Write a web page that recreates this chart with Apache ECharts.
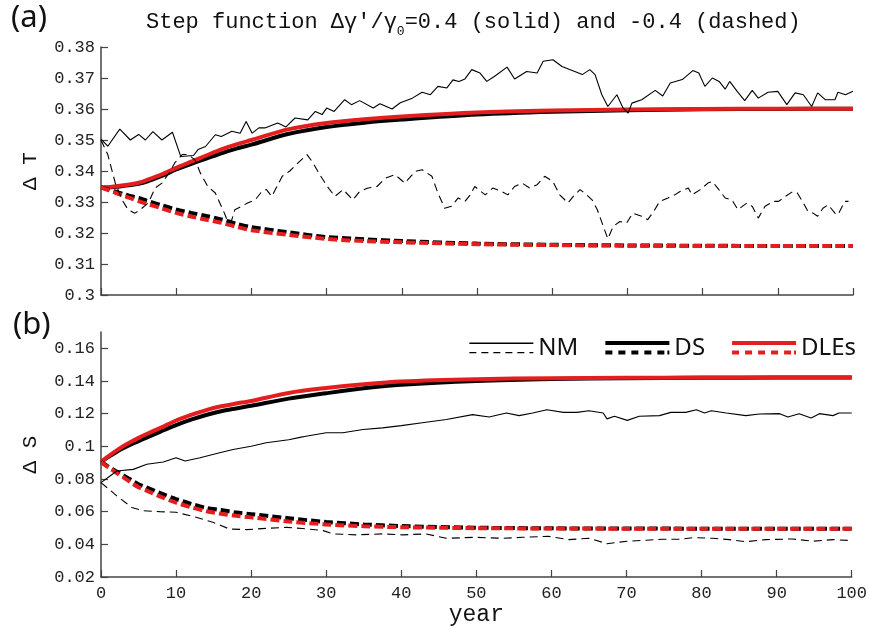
<!DOCTYPE html>
<html>
<head>
	<meta charset="utf-8">
	<title>Step function response</title>
	<script src="https://cdn.jsdelivr.net/npm/echarts@6/dist/echarts.min.js"></script>
	<style>
		html, body { margin: 0; padding: 0; background: #fff; }
		#main { width: 870px; height: 627px; }
	</style>
</head>
<body>
<div id="main"></div>
<script>
// tick values
var xTicks = [0, 10, 20, 30, 40, 50, 60, 70, 80, 90, 100];
var tTicks = [0.3, 0.31, 0.32, 0.33, 0.34, 0.35, 0.36, 0.37, 0.38];
var sTicks = [0.02, 0.04, 0.06, 0.08, 0.1, 0.12, 0.14, 0.16];

// years for the smooth DS / DLEs curves
var years = [0, 1, 2, 3, 4, 5, 6, 8, 10, 12, 14, 16, 18, 20, 25, 30, 35, 40, 50, 60, 70, 80, 90, 100];

// (a) delta T, smooth curves
var dsT_pos   = [0.3347, 0.3347, 0.3349, 0.3352, 0.3355, 0.3359, 0.3365, 0.3383, 0.3405, 0.3423, 0.3440, 0.3457, 0.3472, 0.3485, 0.3520, 0.3542, 0.3556, 0.3566, 0.3582, 0.3591, 0.3596, 0.3599, 0.3600, 0.3601];
var dleT_pos  = [0.3347, 0.3348, 0.3351, 0.3354, 0.3357, 0.3362, 0.3370, 0.3388, 0.3410, 0.3430, 0.3450, 0.3470, 0.3486, 0.3500, 0.3535, 0.3555, 0.3567, 0.3576, 0.3589, 0.3595, 0.3598, 0.3600, 0.3601, 0.3601];
var dsT_neg   = [0.3347, 0.3340, 0.3333, 0.3326, 0.3319, 0.3313, 0.3305, 0.3290, 0.3276, 0.3265, 0.3255, 0.3244, 0.3230, 0.3219, 0.3202, 0.3187, 0.3180, 0.3174, 0.3166, 0.3162, 0.3160, 0.3159, 0.3158, 0.3158];
var dleT_neg  = [0.3347, 0.3338, 0.3329, 0.3320, 0.3312, 0.3303, 0.3295, 0.3280, 0.3265, 0.3253, 0.3243, 0.3233, 0.3220, 0.3209, 0.3194, 0.3181, 0.3174, 0.3170, 0.3164, 0.3161, 0.3159, 0.3158, 0.3158, 0.3158];

// (b) delta S, smooth curves
var dsS_pos   = [0.0904, 0.0935, 0.0964, 0.0990, 0.1012, 0.1032, 0.1052, 0.1092, 0.1130, 0.1163, 0.1192, 0.1215, 0.1232, 0.1248, 0.1292, 0.1325, 0.1355, 0.1377, 0.1400, 0.1412, 0.1417, 0.1420, 0.1421, 0.1422];
var dleS_pos  = [0.0904, 0.0940, 0.0972, 0.1002, 0.1028, 0.1052, 0.1074, 0.1115, 0.1158, 0.1192, 0.1222, 0.1245, 0.1262, 0.1278, 0.1327, 0.1357, 0.1380, 0.1397, 0.1411, 0.1417, 0.1420, 0.1421, 0.1422, 0.1422];
var dsS_neg   = [0.0904, 0.0875, 0.0848, 0.0822, 0.0795, 0.0768, 0.0750, 0.0712, 0.0677, 0.0648, 0.0623, 0.0610, 0.0595, 0.0585, 0.0560, 0.0537, 0.0522, 0.0512, 0.0502, 0.0498, 0.0497, 0.0496, 0.0496, 0.0496];
var dleS_neg  = [0.0904, 0.0871, 0.0840, 0.0810, 0.0778, 0.0750, 0.0730, 0.0690, 0.0655, 0.0627, 0.0603, 0.0587, 0.0575, 0.0565, 0.0540, 0.0522, 0.0511, 0.0505, 0.0499, 0.0497, 0.0496, 0.0496, 0.0495, 0.0495];

// (a) NM, solid (+0.4)
var nmT_pos_yr = [0, 0.9, 2.5, 3.9, 5, 5.9, 6.9, 8.1, 9.5, 10.6, 12.3, 12.9, 13.9, 15.2, 16, 17.4, 18.5, 19.3, 20.1, 21, 21.8, 23.5, 24.6, 25.8, 27.5, 28.5, 29.4, 30, 31, 32.4, 33.3, 34.4, 36.2, 37.1, 38.7, 39.8, 41.4, 42.7, 43.8, 44.8, 46, 46.8, 47.6, 48.4, 49.3, 50.4, 51.3, 52.3, 54, 55, 56.6, 58, 58.8, 60.1, 61.3, 63, 64, 65, 65.7, 66.6, 67.4, 68.6, 69.4, 70.1, 70.6, 71.9, 73.7, 74.7, 75.7, 77.3, 78.7, 79.5, 80.3, 81.3, 82.2, 83, 83.6, 84.6, 85.6, 86.6, 87.4, 88.7, 90, 91.2, 92.3, 93.4, 94.5, 95.3, 96.3, 97.6, 98, 99, 100];
var nmT_pos    = [0.3503, 0.3480, 0.3535, 0.3500, 0.3518, 0.3500, 0.3527, 0.3500, 0.3525, 0.3447, 0.3450, 0.3469, 0.3479, 0.3517, 0.3511, 0.3528, 0.3522, 0.3560, 0.3522, 0.3539, 0.3539, 0.3555, 0.3542, 0.3571, 0.3565, 0.3592, 0.3582, 0.3603, 0.3592, 0.3630, 0.3614, 0.3627, 0.3603, 0.3617, 0.3600, 0.3620, 0.3635, 0.3654, 0.3646, 0.3673, 0.3668, 0.3694, 0.3689, 0.3697, 0.3727, 0.3716, 0.3689, 0.3705, 0.3735, 0.3697, 0.3721, 0.3716, 0.3754, 0.3759, 0.3737, 0.3721, 0.3711, 0.3727, 0.3711, 0.3646, 0.3608, 0.3646, 0.3604, 0.3587, 0.3619, 0.3630, 0.3660, 0.3642, 0.3684, 0.3695, 0.3724, 0.3716, 0.3673, 0.3700, 0.3689, 0.3664, 0.3689, 0.3657, 0.3627, 0.3660, 0.3635, 0.3654, 0.3657, 0.3614, 0.3652, 0.3646, 0.3608, 0.3652, 0.3630, 0.3630, 0.3654, 0.3646, 0.3657];

// (a) NM, dashed (-0.4)
var nmT_neg_yr = [0, 0.9, 1.9, 2.8, 3.6, 4.5, 5.2, 6.3, 7.2, 8.1, 9.2, 9.8, 10.8, 11.6, 12.5, 13.2, 14.2, 15.2, 15.8, 16.5, 16.9, 17.4, 17.8, 18.7, 19.5, 20.5, 21.4, 22, 22.7, 23.4, 24.1, 25.1, 26.2, 27.4, 28.2, 29.1, 30.1, 31.1, 32.2, 33.5, 34.4, 35.5, 36.7, 37.8, 39.1, 40.4, 41.8, 42.7, 44, 44.8, 45.7, 46.6, 47.5, 48.4, 49.1, 49.7, 51.1, 52.1, 53.3, 54.1, 55, 56, 57, 58, 59, 60.1, 61, 62.1, 62.8, 63.7, 64.6, 65.3, 66, 66.8, 67.4, 68.1, 69, 69.9, 70.7, 71.9, 72.7, 73.5, 74.3, 75.4, 76.3, 77, 78.1, 78.6, 79.7, 80.7, 81.3, 82, 83, 83.9, 84.7, 85.9, 86.6, 87.4, 88.3, 89.4, 90.1, 91, 92, 92.6, 93.4, 94, 94.7, 95.3, 96, 96.7, 97.6, 98, 98.9, 99.4];
var nmT_neg    = [0.3500, 0.3453, 0.3361, 0.3307, 0.3275, 0.3264, 0.3275, 0.3297, 0.3345, 0.3361, 0.3399, 0.3426, 0.3453, 0.3453, 0.3436, 0.3394, 0.3350, 0.3329, 0.3297, 0.3259, 0.3232, 0.3243, 0.3275, 0.3286, 0.3297, 0.3307, 0.3334, 0.3340, 0.3318, 0.3350, 0.3383, 0.3400, 0.3426, 0.3453, 0.3426, 0.3388, 0.3350, 0.3318, 0.3340, 0.3307, 0.3334, 0.3345, 0.3350, 0.3377, 0.3388, 0.3361, 0.3399, 0.3404, 0.3383, 0.3329, 0.3280, 0.3286, 0.3313, 0.3302, 0.3323, 0.3350, 0.3323, 0.3345, 0.3334, 0.3323, 0.3350, 0.3361, 0.3345, 0.3356, 0.3383, 0.3366, 0.3323, 0.3297, 0.3318, 0.3340, 0.3323, 0.3307, 0.3275, 0.3221, 0.3181, 0.3221, 0.3237, 0.3232, 0.3264, 0.3254, 0.3243, 0.3270, 0.3302, 0.3313, 0.3323, 0.3334, 0.3345, 0.3323, 0.3340, 0.3361, 0.3366, 0.3345, 0.3313, 0.3307, 0.3275, 0.3297, 0.3286, 0.3248, 0.3286, 0.3302, 0.3302, 0.3318, 0.3334, 0.3329, 0.3297, 0.3270, 0.3264, 0.3254, 0.3280, 0.3291, 0.3264, 0.3259, 0.3302, 0.3302];

// (b) NM, solid (+0.4)
var nmS_pos_yr = [0, 1.2, 2.1, 4.3, 6.1, 8.3, 10, 11.2, 13.2, 15.8, 17.6, 20, 22, 25, 26.5, 27.3, 30, 32.2, 34.9, 37.5, 40, 42.8, 46, 49.5, 51.7, 54, 55.7, 57.5, 59.4, 61.6, 63.4, 65, 66.9, 67.4, 68.4, 70.1, 71.7, 74.4, 75.9, 77.9, 79.3, 80.4, 81.3, 83.3, 85.9, 87.7, 90.4, 91.5, 93, 94.6, 95.7, 97.5, 98.3, 100];
var nmS_pos    = [0.0778, 0.0818, 0.0849, 0.0859, 0.0890, 0.0904, 0.0930, 0.0910, 0.0930, 0.0961, 0.0981, 0.1001, 0.1022, 0.1040, 0.1055, 0.1062, 0.1083, 0.1083, 0.1103, 0.1113, 0.1127, 0.1144, 0.1164, 0.1194, 0.1180, 0.1204, 0.1188, 0.1204, 0.1224, 0.1208, 0.1208, 0.1218, 0.1204, 0.1168, 0.1184, 0.1159, 0.1184, 0.1188, 0.1208, 0.1208, 0.1224, 0.1204, 0.1218, 0.1204, 0.1188, 0.1198, 0.1200, 0.1180, 0.1200, 0.1174, 0.1200, 0.1188, 0.1204, 0.1204];

// (b) NM, dashed (-0.4)
var nmS_neg_yr = [0, 2.1, 4.1, 5.6, 7.8, 10, 12.3, 14.9, 17.1, 19.4, 22, 24.7, 26.8, 29.6, 30.9, 34, 37.5, 40.2, 43.3, 46, 49.9, 53.5, 56.2, 59.6, 62.3, 65, 67.4, 70.1, 72.6, 74.8, 77.1, 78.8, 81.5, 83.7, 85.9, 88.6, 92.1, 94.8, 97.5, 100];
var nmS_neg    = [0.0778, 0.0697, 0.0626, 0.0606, 0.0600, 0.0596, 0.0571, 0.0535, 0.0494, 0.0490, 0.0498, 0.0504, 0.0497, 0.0484, 0.0464, 0.0458, 0.0464, 0.0458, 0.0464, 0.0437, 0.0443, 0.0437, 0.0443, 0.0449, 0.0429, 0.0437, 0.0404, 0.0419, 0.0425, 0.0431, 0.0431, 0.0441, 0.0437, 0.0429, 0.0416, 0.0429, 0.0433, 0.0419, 0.0429, 0.0423];

var RED = '#e41e1e';
var MONO = "'Liberation Mono', 'DejaVu Sans Mono', monospace";
var SANS = "'Noto Sans', 'Open Sans', sans-serif";

function pairs(xs, ys) {
	var out = [];
	for (var i = 0; i < xs.length; i++) out.push([xs[i], ys[i]]);
	return out;
}

// one line series
function line(name, idx, xs, ys, color, width, dash, smooth) {
	return {
		name: name,
		type: 'line',
		xAxisIndex: idx,
		yAxisIndex: idx,
		data: pairs(xs, ys),
		showSymbol: false,
		symbol: 'none',
		smooth: smooth ? 0.3 : false,
		color: color,
		itemStyle: { color: color },
		lineStyle: { color: color, width: width, type: dash || 'solid' },
		emphasis: { disabled: true }
	};
}

function xAxis(idx, showLabel) {
	return {
		type: 'value', gridIndex: idx, min: 0, max: 100,
		name: showLabel ? 'year' : '',
		nameLocation: 'middle', nameGap: 26,
		nameTextStyle: { fontFamily: MONO, fontSize: 23, color: '#111' },
		axisLine: { lineStyle: { color: '#444', width: 1.5 } },
		axisTick: { inside: true, length: 7, customValues: xTicks, lineStyle: { color: '#444', width: 1.2 } },
		axisLabel: { show: showLabel, customValues: xTicks, margin: 8, fontFamily: MONO, fontSize: 17, color: '#222' },
		splitLine: { show: false }
	};
}

function yAxis(idx, name, min, max, ticks) {
	return {
		type: 'value', gridIndex: idx, min: min, max: max,
		name: name, nameLocation: 'middle', nameGap: 60, nameRotate: 90,
		nameTextStyle: { fontFamily: MONO, fontSize: 21, color: '#111' },
		axisLine: { lineStyle: { color: '#444', width: 1.5 } },
		axisTick: { inside: true, length: 7, customValues: ticks, lineStyle: { color: '#444', width: 1.2 } },
		axisLabel: {
			customValues: ticks, margin: 6, fontFamily: MONO, fontSize: 17, color: '#222',
			formatter: function (v) { return String(+v.toFixed(3)); }
		},
		splitLine: { show: false }
	};
}

// legend icons: solid line over dashed line, 64x16 box
var iconNM = 'path://M0 0L0 0M64 16L64 16M0 2.6H64V3.9H0Z' +
	'M0 12H7V13.3H0ZM12 12H19V13.3H12ZM24 12H31V13.3H24ZM36 12H43V13.3H36ZM48 12H55V13.3H48ZM60 12H64V13.3H60Z';
var iconThick = 'path://M0 0L0 0M64 16L64 16M0 1H64V5H0Z' +
	'M0 10.5H7V14.5H0ZM13 10.5H20V14.5H13ZM26 10.5H33V14.5H26ZM39 10.5H46V14.5H39ZM52 10.5H59V14.5H52ZM62 10.5H64V14.5H62Z';

var chart = echarts.init(document.getElementById('main'), null, { renderer: 'canvas' });

var option = {
	animation: false,
	backgroundColor: '#fff',
	title: [
		{
			text: '{a|Step function Δγ′/γ}{s|0}{a|=0.4 (solid) and -0.4 (dashed)}',
			left: 141, top: 4,
			textStyle: {
				fontWeight: 'normal',
				rich: {
					a: { fontFamily: MONO, fontSize: 22, fontWeight: 'normal', color: '#111', lineHeight: 26 },
					s: { fontFamily: MONO, fontSize: 13, fontWeight: 'normal', color: '#111', lineHeight: 26, verticalAlign: 'bottom', padding: [0, 0, -3, 0] }
				}
			}
		},
		{ text: '(a)', left: 6, top: -2, textStyle: { fontFamily: SANS, fontSize: 31, fontWeight: 'normal', color: '#111' } },
		{ text: '(b)', left: 8, top: 305, textStyle: { fontFamily: SANS, fontSize: 31, fontWeight: 'normal', color: '#111' } }
	],
	legend: {
		right: 9, top: 331,
		itemWidth: 64, itemHeight: 16, itemGap: 27,
		selectedMode: false,
		symbolKeepAspect: false,
		itemStyle: { borderWidth: 0 },
		textStyle: { fontFamily: SANS, fontSize: 24, color: '#111' },
		data: [
			{ name: 'NM', icon: iconNM },
			{ name: 'DS', icon: iconThick },
			{ name: 'DLEs', icon: iconThick }
		]
	},
	grid: [
		{ left: 101, right: 17, top: 47, height: 248 },
		{ left: 101, right: 17, top: 332, height: 246 }
	],
	xAxis: [xAxis(0, false), xAxis(1, true)],
	yAxis: [
		yAxis(0, 'Δ T', 0.3, 0.38, tTicks),
		yAxis(1, 'Δ S', 0.02, 0.17, sTicks)
	],
	series: [
		line('DS', 0, years, dsT_pos, '#000', 4, null, true),
		line('DLEs', 0, years, dleT_pos, RED, 4, null, true),
		line('DS', 0, years, dsT_neg, '#000', 4, [9, 4], true),
		line('DLEs', 0, years, dleT_neg, RED, 4, [9, 4], true),
		line('NM', 0, nmT_pos_yr, nmT_pos, '#000', 1.1, null, false),
		line('NM', 0, nmT_neg_yr, nmT_neg, '#000', 1.1, [8, 5], false),

		line('DS', 1, years, dsS_pos, '#000', 4, null, true),
		line('DLEs', 1, years, dleS_pos, RED, 4, null, true),
		line('DS', 1, years, dsS_neg, '#000', 4, [9, 4], true),
		line('DLEs', 1, years, dleS_neg, RED, 4, [9, 4], true),
		line('NM', 1, nmS_pos_yr, nmS_pos, '#000', 1.1, null, false),
		line('NM', 1, nmS_neg_yr, nmS_neg, '#000', 1.1, [8, 5], false)
	]
};

chart.setOption(option);
window.onresize = chart.resize;
</script>
</body>
</html>
